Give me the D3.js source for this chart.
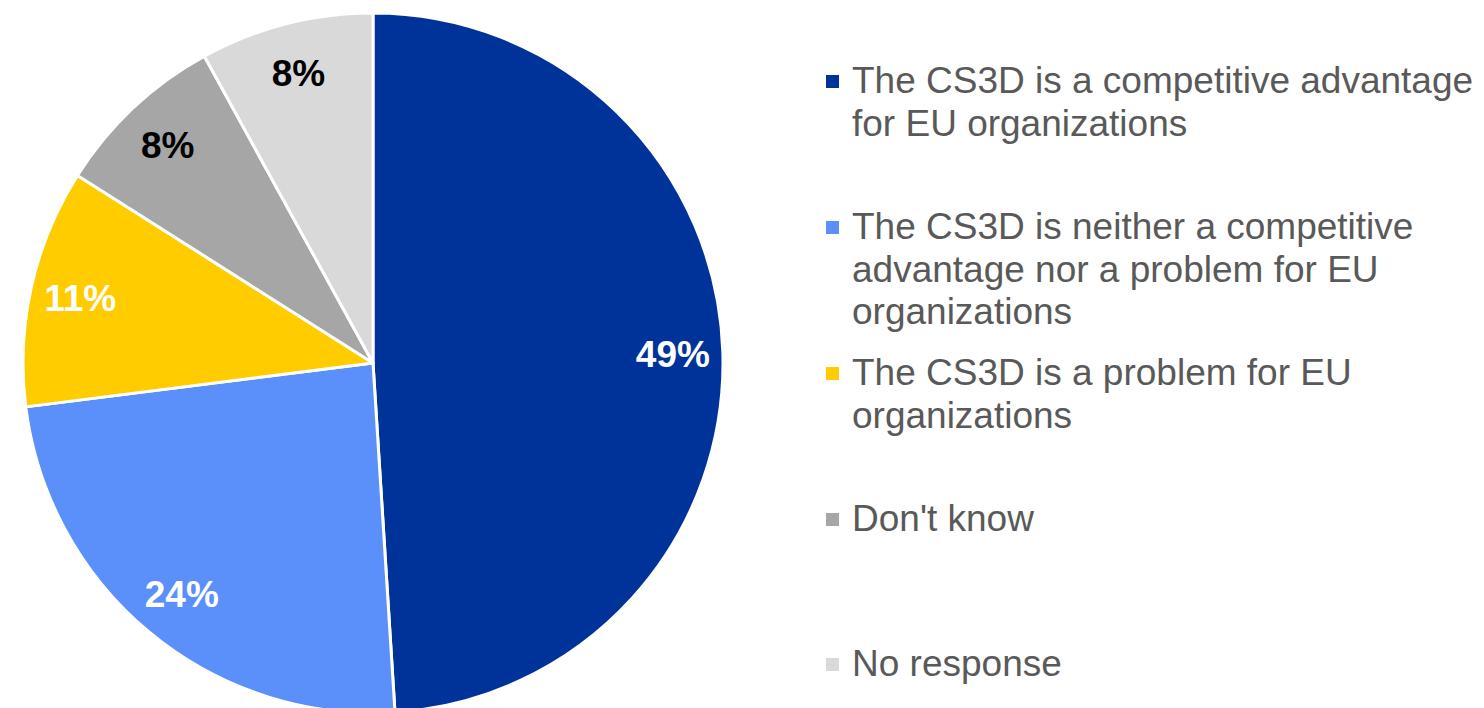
<!DOCTYPE html>
<html>
<head>
<meta charset="utf-8">
<script src="https://cdn.jsdelivr.net/npm/d3@7"></script>
<style>
  html, body { margin: 0; padding: 0; background: #ffffff; }
  svg { display: block; }
</style>
</head>
<body>
<svg id="chart" width="1484" height="708"></svg>
<script>
// Survey answers about the CS3D
const categories = [
  "The CS3D is a competitive advantage for EU organizations",
  "The CS3D is neither a competitive advantage nor a problem for EU organizations",
  "The CS3D is a problem for EU organizations",
  "Don't know",
  "No response"
];
// Legend text broken into the lines shown
const legendLines = [
  ["The CS3D is a competitive advantage", "for EU organizations"],
  ["The CS3D is neither a competitive", "advantage nor a problem for EU", "organizations"],
  ["The CS3D is a problem for EU", "organizations"],
  ["Don't know"],
  ["No response"]
];
const values = [49, 24, 11, 8, 8];
const colors = ["#003399", "#5B8FF9", "#FFCC00", "#A6A6A6", "#D9D9D9"];
const labelColors = ["#ffffff", "#ffffff", "#ffffff", "#000000", "#000000"];

const svg = d3.select("#chart");
const font = "'Liberation Sans', Arial, sans-serif";
const fontSize = 37;

const cx = 373, cy = 363, radius = 350;

const pie = d3.pie().sort(null).value(d => d)(values);
const arc = d3.arc().innerRadius(0).outerRadius(radius);
const labelArc = d3.arc().innerRadius(300).outerRadius(300);

const g = svg.append("g").attr("transform", `translate(${cx},${cy})`);

g.selectAll("path.slice")
  .data(pie)
  .join("path")
  .attr("class", "slice")
  .attr("d", arc)
  .attr("fill", (d, i) => colors[i])
  .attr("stroke", "#ffffff")
  .attr("stroke-width", 3)
  .attr("stroke-linejoin", "round");

g.selectAll("text.pct")
  .data(pie)
  .join("text")
  .attr("class", "pct")
  .attr("transform", d => {
    const [x, y] = labelArc.centroid(d);
    return `translate(${x},${y})`;
  })
  .attr("text-anchor", "middle")
  .attr("dy", "0.36em")
  .attr("font-family", font)
  .attr("font-weight", "bold")
  .attr("font-size", fontSize)
  .attr("fill", (d, i) => labelColors[i])
  .text(d => d.data + "%");

// Legend: one entry per category, wrapped text to the right of a small square
const legendX = 826;
const lineH = 42.6;
const entryBaselines = [93, 239, 385, 531, 676];
const legend = svg.append("g");
legendLines.forEach((lines, i) => {
  const item = legend.append("g");
  item.append("rect")
    .attr("x", legendX)
    .attr("y", entryBaselines[i] - 18)
    .attr("width", 13)
    .attr("height", 13)
    .attr("fill", colors[i]);
  const t = item.append("text")
    .attr("font-family", font)
    .attr("font-size", fontSize)
    .attr("fill", "#595959");
  lines.forEach((line, j) => {
    t.append("tspan")
      .attr("x", legendX + 26)
      .attr("y", entryBaselines[i] + j * lineH)
      .text(line);
  });
});
</script>
</body>
</html>
